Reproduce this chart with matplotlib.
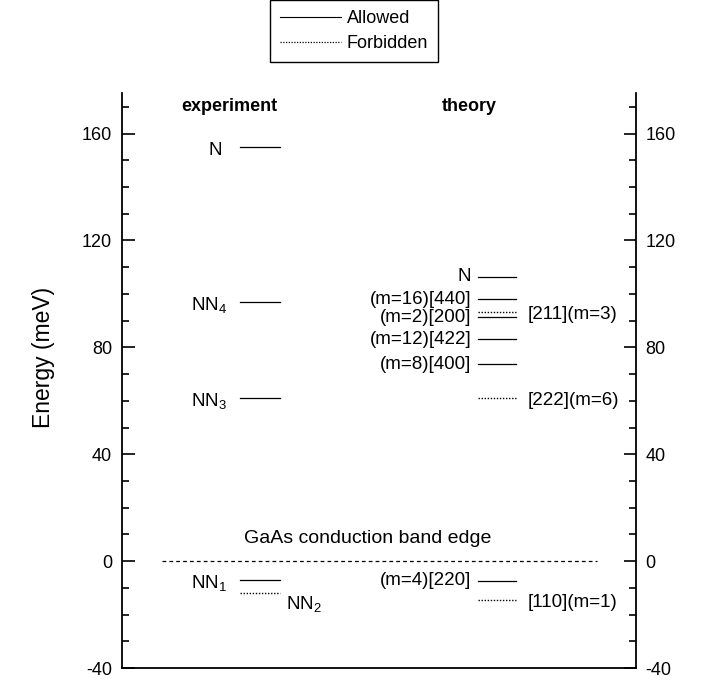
import matplotlib.pyplot as plt
from matplotlib.lines import Line2D
from matplotlib.ticker import MultipleLocator

plt.rcParams['font.family'] = ['Liberation Sans', 'DejaVu Sans']
plt.rcParams['axes.unicode_minus'] = False

# experiment levels (meV)
exp_labels = ['N', 'NN$_\\mathregular{4}$', 'NN$_\\mathregular{3}$', 'NN$_\\mathregular{1}$', 'NN$_\\mathregular{2}$']
exp_energy = [155, 97, 61, -7, -12]
exp_allowed = [True, True, True, True, False]

# theory levels (meV)
th_labels = ['N', '(m=16)[440]', '[211](m=3)', '(m=2)[200]', '(m=12)[422]', '(m=8)[400]',
             '[222](m=6)', '(m=4)[220]', '[110](m=1)']
th_energy = [106.5, 98, 93.3, 91.2, 83, 73.7, 61.2, -7.4, -14.5]
th_allowed = [True, True, False, True, True, True, False, True, False]

fig = plt.figure(figsize=(7.04, 6.8), dpi=100)
ax = fig.add_axes([0.173, 0.0176, 0.730, 0.845])

exp_x = (2.3, 3.07)
th_x = (6.93, 7.68)


def draw_levels(x, energies, allowed):
    for e, a in zip(energies, allowed):
        ax.plot(x, [e, e], color='black', lw=0.9 if a else 1.0,
                ls='-' if a else (0, (1, 1.2)))


draw_levels(exp_x, exp_energy, exp_allowed)
draw_levels(th_x, th_energy, th_allowed)

fs = 13.5
# experiment labels
for lab, e, a in zip(exp_labels, exp_energy, exp_allowed):
    if lab.startswith('NN$_\\mathregular{2}'):
        ax.text(3.2, e - 4.5, lab, ha='left', va='center', fontsize=fs)
    elif lab == 'N':
        ax.text(1.95, e - 1.5, lab, ha='right', va='center', fontsize=fs)
    else:
        ax.text(2.05, e - 1.5, lab, ha='right', va='center', fontsize=fs)

# theory labels: allowed on left, forbidden on right
for lab, e, a in zip(th_labels, th_energy, th_allowed):
    if a:
        ax.text(6.8, e, lab, ha='right', va='center', fontsize=fs)
    else:
        ax.text(7.9, e - 1, lab, ha='left', va='center', fontsize=fs)

# conduction band edge
ax.plot([0.78, 9.24], [0, 0], color='black', lw=0.9, ls=(0, (3, 2.5)))
ax.text(4.78, 8.5, 'GaAs conduction band edge', ha='center', va='center', fontsize=14)

ax.text(2.1, 170, 'experiment', ha='center', va='center', fontsize=13, fontweight='bold')
ax.text(6.77, 170, 'theory', ha='center', va='center', fontsize=13, fontweight='bold')

ax.set_xlim(0, 10)
ax.set_ylim(-40, 175)
ax.set_xticks([])
ax.yaxis.set_major_locator(MultipleLocator(40))
ax.yaxis.set_minor_locator(MultipleLocator(10))
ax.tick_params(axis='y', which='both', direction='in', left=True, right=True,
               labelleft=True, labelright=True, labelsize=13, width=1.2, pad=7)
ax.tick_params(axis='y', which='major', length=9)
ax.tick_params(axis='y', which='minor', length=5)
ax.spines['top'].set_visible(False)
for s in ['left', 'right', 'bottom']:
    ax.spines[s].set_linewidth(1.3)
ax.set_ylabel('Energy (meV)', fontsize=16.5)
ax.yaxis.set_label_coords(-0.129, 0.54)

handles = [Line2D([], [], color='black', lw=0.8, ls='-'),
           Line2D([], [], color='black', lw=0.9, ls=(0, (1, 1.2)))]
leg = fig.legend(handles, ['Allowed', 'Forbidden'], loc='upper center',
                 bbox_to_anchor=(0.503, 1.0), fontsize=13, frameon=True,
                 fancybox=False, edgecolor='black', framealpha=1,
                 handlelength=3.4, handletextpad=0.3, labelspacing=0.45,
                 borderpad=0.55, borderaxespad=0.0)
leg.get_frame().set_linewidth(1.0)

fig.savefig('out.png', dpi=100)
